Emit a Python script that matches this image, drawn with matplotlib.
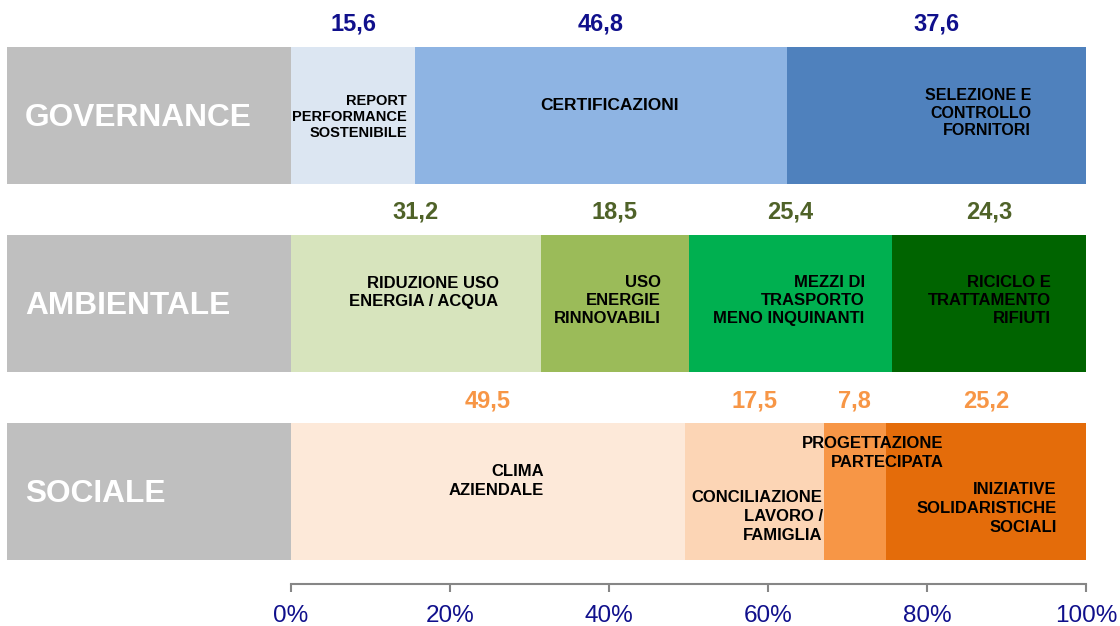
import matplotlib
matplotlib.use("Agg")
import matplotlib.pyplot as plt
from matplotlib import font_manager as fm
import numpy as np

# ---------------- data ----------------
groups = ["GOVERNANCE", "AMBIENTALE", "SOCIALE"]

gov_values = [15.6, 46.8, 37.6]
gov_labels = ["REPORT\nPERFORMANCE\nSOSTENIBILE", "CERTIFICAZIONI",
              "SELEZIONE E\nCONTROLLO\nFORNITORI"]

amb_values = [31.2, 18.5, 25.4, 24.3]
amb_labels = ["RIDUZIONE USO\nENERGIA / ACQUA", "USO\nENERGIE\nRINNOVABILI",
              "MEZZI DI\nTRASPORTO\nMENO INQUINANTI", "RICICLO E\nTRATTAMENTO\nRIFIUTI"]

soc_values = [49.5, 17.5, 7.8, 25.2]
soc_labels = ["CLIMA\nAZIENDALE", "CONCILIAZIONE\nLAVORO /\nFAMIGLIA",
              "PROGETTAZIONE\nPARTECIPATA", "INIZIATIVE\nSOLIDARISTICHE\nSOCIALI"]

x_ticks = [0, 20, 40, 60, 80, 100]
x_ticklabels = ["0%", "20%", "40%", "60%", "80%", "100%"]

# ---------------- styles ----------------
gov_colors = ["#DCE6F2", "#8EB4E3", "#4F81BD"]
amb_colors = ["#D7E4BD", "#9BBB59", "#00B050", "#006400"]
soc_colors = ["#FDE9D9", "#FCD5B5", "#F79646", "#E46C0A"]
value_colors = ["#10108C", "#4F6228", "#F79646"]
gray = "#BFBFBF"

available = {f.name for f in fm.fontManager.ttflist}
narrow = "Liberation Sans Narrow" if "Liberation Sans Narrow" in available else "Liberation Sans"
base = "Liberation Sans"

# label placement: (pad from right edge in px, vertical offset in px, downward)
px_per_unit = 7.95
gov_place = [(8, 1.5), (108, -10.5), (55, -2.5)]
amb_place = [(42, -11), (28, -3), (27, -3), (35, -3)]
soc_place = [(141, -10.5), (1, 24.5), (-58, -38.5), (29, 16.5)]
gov_sizes = [10.5, 12.5, 11.5]
amb_sizes = [12, 12, 12, 12]
soc_sizes = [12, 12, 12, 12]
row_spacing_px = 188.0
linespacings = [1.2, 1.26, 1.32]

fig = plt.figure(figsize=(11.2, 6.26), dpi=100)
ax = fig.add_axes([0, 42 / 626, 1, 584 / 626])
ax.set_xlim(-291 / px_per_unit, (1120 - 291) / px_per_unit)
ax.set_ylim(2.49, -0.614)

bar_h = 0.73
rows = [(gov_values, gov_labels, gov_colors, gov_place, gov_sizes),
        (amb_values, amb_labels, amb_colors, amb_place, amb_sizes),
        (soc_values, soc_labels, soc_colors, soc_place, soc_sizes)]

for i, (vals, labs, cols, place, sizes) in enumerate(rows):
    # gray label box left of the axis
    ax.barh(i, 291 / px_per_unit - 0.9, left=-(291 / px_per_unit - 0.9), height=bar_h,
            color=gray, edgecolor="none")
    ax.text(-(291 - 25) / px_per_unit, i + 2 / row_spacing_px, groups[i],
            ha="left", va="center", color="white", fontsize=22.8,
            fontweight="bold", family=base)
    arr = np.array(vals, dtype=float)
    pct = arr / arr.sum() * 100
    lefts = np.concatenate([[0], np.cumsum(pct)[:-1]])
    ax.barh([i] * len(pct), pct, left=lefts, height=bar_h, color=cols,
            edgecolor="none")
    for v, l, w, lab, (pad, dy), fs in zip(vals, lefts, pct, labs, place, sizes):
        # value above the segment
        ax.text(l + w / 2, i - bar_h / 2 - 0.12, f"{v:.1f}".replace(".", ","),
                ha="center", va="center", color=value_colors[i],
                fontsize=17, fontweight="bold", family=narrow)
        # category inside the segment
        ax.text(l + w - pad / px_per_unit, i + dy / row_spacing_px, lab,
                ha="right", va="center", multialignment="right",
                fontsize=fs, fontweight="bold", color="black",
                family=base, linespacing=linespacings[i])

for s in ["top", "right", "left"]:
    ax.spines[s].set_visible(False)
ax.spines["bottom"].set_color("#868686")
ax.spines["bottom"].set_linewidth(1.5)
ax.spines["bottom"].set_bounds(0, 100)
ax.set_yticks([])
ax.set_xticks(x_ticks)
ax.set_xticklabels(x_ticklabels, fontsize=17.5, color="#10108C", family=narrow)
ax.tick_params(axis="x", direction="out", length=6, width=1.5, color="#868686", pad=9)

fig.savefig("out.png", dpi=100)
